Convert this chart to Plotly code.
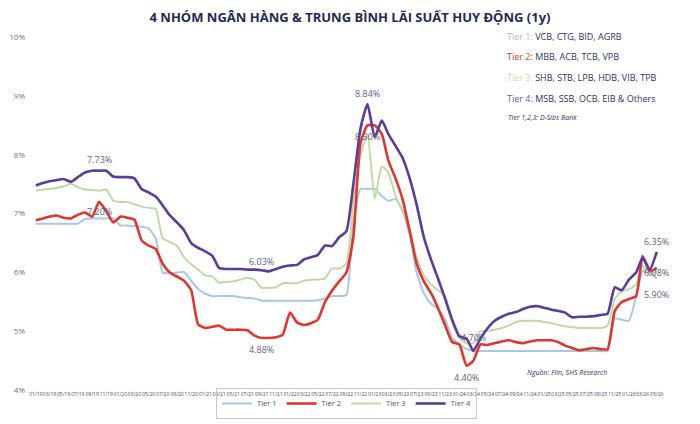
import pandas as pd
import plotly.graph_objects as go

months = pd.date_range("2019-01-01", periods=89, freq="MS")

tier1 = [6.83, 6.83, 6.83, 6.83, 6.83, 6.83, 6.83, 6.91, 6.92, 6.92, 6.92, 6.92,
         6.80, 6.80, 6.79, 6.78, 6.75, 6.58, 6.00, 5.99, 6.00, 6.01, 5.86, 5.72,
         5.64, 5.60, 5.60, 5.60, 5.60, 5.58, 5.57, 5.56, 5.52, 5.52, 5.52, 5.52,
         5.52, 5.52, 5.52, 5.52, 5.53, 5.56, 5.60, 5.60, 5.62, 6.85, 7.42, 7.42,
         7.42, 7.30, 7.22, 7.25, 7.05, 6.65, 6.00, 5.65, 5.47, 5.38, 5.20, 4.89,
         4.78, 4.70, 4.67, 4.67, 4.67, 4.67, 4.67, 4.67, 4.67, 4.67, 4.67, 4.67,
         4.67, 4.67, 4.67, 4.67, 4.67, 4.67, 4.67, 4.67, 4.67, 4.67, 5.22, 5.20,
         5.18, 5.60, 6.02, 6.00, 5.90]

tier2 = [6.89, 6.92, 6.95, 6.97, 6.93, 6.92, 6.98, 7.02, 6.95, 7.20, 7.04, 6.85,
         6.95, 6.93, 6.90, 6.55, 6.46, 6.40, 6.15, 6.00, 5.93, 5.86, 5.70, 5.12,
         5.06, 5.08, 5.10, 5.03, 5.03, 5.03, 5.02, 4.93, 4.89, 4.89, 4.90, 4.95,
         5.32, 5.15, 5.11, 5.14, 5.20, 5.50, 5.69, 5.85, 6.00, 6.60, 8.20, 8.50,
         8.50, 8.35, 7.90, 7.60, 7.25, 6.70, 6.15, 5.85, 5.65, 5.40, 5.10, 4.82,
         4.78, 4.42, 4.50, 4.78, 4.77, 4.80, 4.83, 4.85, 4.82, 4.80, 4.83, 4.85,
         4.85, 4.85, 4.82, 4.76, 4.72, 4.68, 4.70, 4.72, 4.70, 4.70, 5.35, 5.50,
         5.55, 5.60, 6.28, 6.02, 6.08]

tier3 = [7.39, 7.41, 7.42, 7.44, 7.46, 7.51, 7.45, 7.41, 7.40, 7.39, 7.41, 7.22,
         7.20, 7.20, 7.16, 7.12, 7.10, 7.08, 6.58, 6.52, 6.45, 6.26, 6.14, 6.05,
         5.95, 5.93, 5.83, 5.84, 5.85, 5.88, 5.91, 5.88, 5.74, 5.74, 5.75, 5.82,
         5.82, 5.82, 5.86, 5.88, 5.88, 5.90, 6.07, 6.07, 6.15, 7.20, 8.00, 8.35,
         7.25, 7.80, 7.70, 7.30, 7.05, 6.75, 6.25, 5.95, 5.80, 5.70, 5.60, 5.15,
         4.89, 4.80, 4.80, 5.00, 5.01, 5.03, 5.06, 5.10, 5.16, 5.18, 5.18, 5.18,
         5.16, 5.14, 5.11, 5.09, 5.07, 5.06, 5.06, 5.06, 5.06, 5.10, 5.55, 5.68,
         5.72, 5.80, 6.12, 5.96, 6.02]

tier4 = [7.48, 7.52, 7.55, 7.57, 7.59, 7.54, 7.62, 7.70, 7.73, 7.73, 7.73, 7.63,
         7.62, 7.62, 7.60, 7.42, 7.36, 7.29, 7.14, 6.97, 6.85, 6.72, 6.50, 6.42,
         6.36, 6.28, 6.08, 6.06, 6.06, 6.06, 6.05, 6.05, 6.04, 6.02, 6.06, 6.10,
         6.12, 6.13, 6.22, 6.26, 6.30, 6.46, 6.45, 6.60, 6.70, 7.50, 8.45, 8.86,
         8.30, 8.58, 8.35, 8.15, 7.95, 7.60, 7.15, 6.60, 6.22, 5.90, 5.55, 5.20,
         4.92, 4.88, 4.67, 4.88, 5.05, 5.18, 5.25, 5.30, 5.33, 5.38, 5.42, 5.43,
         5.40, 5.37, 5.35, 5.32, 5.24, 5.25, 5.25, 5.26, 5.28, 5.30, 5.75, 5.70,
         5.88, 6.00, 6.25, 6.05, 6.35]

series = [
    ("Tier 1", tier1, "#a9c6e6", 2.0, 1),
    ("Tier 3", tier3, "#bcdca4", 2.0, 3),
    ("Tier 2", tier2, "#e2352b", 2.6, 2),
    ("Tier 4", tier4, "#5b3b9c", 2.6, 4),
]

# (label, month index, value source, yshift)
point_labels = [
    ("7.73%", 9, tier4, 11),
    ("7.20%", 9, tier2, -10),
    ("6.03%", 32, tier4, 9),
    ("4.88%", 32, tier2, -12),
    ("8.84%", 47, tier4, 11),
    ("8.50%", 47, tier2, -11),
    ("4.70%", 62, tier4, 13),
    ("4.40%", 61, tier2, -12),
    ("6.35%", 88, tier4, 10),
    ("6.08%", 88, tier2, -5),
    ("5.90%", 88, tier1, -16),
]

fig = go.Figure()
for name, vals, col, w, rank in series:
    fig.add_trace(go.Scatter(
        x=months, y=vals, name=name, mode="lines",
        line=dict(color=col, width=w, shape="spline", smoothing=0.5),
        legendrank=rank,
    ))

for txt, m, src, ys in point_labels:
    fig.add_annotation(x=months[m], y=src[m], text=txt, showarrow=False,
                       yshift=ys, font=dict(size=9, color="#5a6580"))

navy = "#2b3563"
info = [
    ("Tier 1:", "#9cc0e4", "VCB, CTG, BID, AGRB", 36),
    ("Tier 2:", "#e2352b", "MBB, ACB, TCB, VPB", 56),
    ("Tier 3:", "#c6e0a8", "SHB, STB, LPB, HDB, VIB, TPB", 77),
    ("Tier 4:", "#6a5aa0", "MSB, SSB, OCB, EIB & Others", 98),
]
for lab, c, rest, ypx in info:
    fig.add_annotation(xref="paper", yref="y domain", x=0.752, y=1, yshift=37 - ypx,
                       xanchor="left", yanchor="middle", showarrow=False,
                       text=f"<span style='color:{c}'>{lab}</span> {rest}",
                       font=dict(size=9, color=navy))
fig.add_annotation(xref="paper", yref="y domain", x=0.754, y=1, yshift=37 - 117,
                   xanchor="left", yanchor="middle", showarrow=False,
                   text="<i>Tier 1,2,3: D-Sibs Bank</i>",
                   font=dict(size=7, color=navy))
fig.add_annotation(xref="paper", yref="y domain", x=0.785, y=0, yshift=18,
                   xanchor="left", yanchor="middle", showarrow=False,
                   text="<i>Nguồn: Fiin, SHS Research</i>",
                   font=dict(size=7, color=navy))

fig.add_shape(type="line", xref="paper", yref="y", x0=0, x1=1, y0=4, y1=4,
              line=dict(color="#d8d8d8", width=1, dash="dot"))

fig.update_layout(
    width=700, height=424,
    margin=dict(l=33, r=40, t=37, b=0),
    paper_bgcolor="white", plot_bgcolor="white",
    font=dict(family="Open Sans, Roboto, sans-serif", color="#6b7280"),
    title=dict(text="<b>4 NHÓM NGÂN HÀNG & TRUNG BÌNH LÃI SUẤT HUY ĐỘNG (1y)</b>",
               x=0.5, xanchor="center", y=0.96, yanchor="middle",
               font=dict(size=13, color="#1f2a58")),
    showlegend=True,
    legend=dict(orientation="h", x=0.5, xanchor="center",
                y=0.0, yanchor="bottom", bgcolor="rgba(255,255,255,0)",
                bordercolor="#c8c8c8", borderwidth=1, font=dict(size=7.5, color="#555"),
                itemwidth=30, traceorder="normal", tracegroupgap=0),
    xaxis=dict(type="date", range=["2018-12-20", "2026-05-15"],
               tick0="2019-01-01", dtick="M2", tickformat="%m/%y",
               tickangle=0, showgrid=False, zeroline=False, showline=False,
               ticklabelstandoff=0,
               tickfont=dict(size=5, color="#3d4a6b"), ticks="", automargin=False),
    yaxis=dict(range=[4, 10], dtick=1, ticksuffix="%", showgrid=False,
               domain=[0.075, 1],
               zeroline=False, showline=False, ticks="", ticklabelstandoff=7,
               tickfont=dict(size=8, color="#6b7280")),
)

fig.write_html("out.html")
